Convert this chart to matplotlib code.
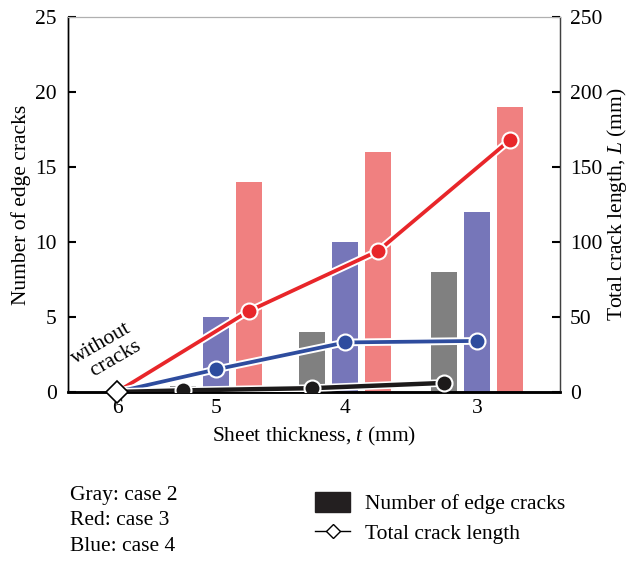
import matplotlib.pyplot as plt
import matplotlib.patheffects as pe
from matplotlib.patches import Patch
from matplotlib.lines import Line2D

plt.rcParams["font.family"] = ["Liberation Serif", "DejaVu Serif"]
plt.rcParams["mathtext.fontset"] = "custom"
plt.rcParams["mathtext.it"] = "Liberation Serif:italic"
plt.rcParams["mathtext.rm"] = "Liberation Serif"

# Data
thickness = ["6", "5", "4", "3"]
cracks_gray = [0.4, 4, 8]      # case 2, for t = 5, 4, 3
cracks_blue = [5, 10, 12]      # case 4
cracks_red = [14, 16, 19]      # case 3
length_gray = [0, 1, 2.5, 6]   # starts at t = 6 (no cracks)
length_blue = [0, 15, 33, 34]
length_red = [0, 54, 94, 168]

# Layout
XPOS = [0.374, 1.13, 2.115, 3.122]
OFFSET = 0.252
BAR_W = 0.2
GRAY_BAR, BLUE_BAR, RED_BAR = "#808080", "#7676b9", "#f08080"
GRAY_LINE, BLUE_LINE, RED_LINE = "#1c1a1a", "#2e4c9e", "#e8262a"
FS = 15.5

fig = plt.figure(figsize=(6.31, 5.68), dpi=100)
ax = fig.add_axes([0.1078, 0.31, 0.7797, 0.66])
ax2 = ax.twinx()

groups = XPOS[1:]
ax.bar([x - OFFSET for x in groups], cracks_gray, BAR_W, color=GRAY_BAR)
ax.bar(groups, cracks_blue, BAR_W, color=BLUE_BAR)
ax.bar([x + OFFSET for x in groups], cracks_red, BAR_W, color=RED_BAR)

outline = [pe.Stroke(linewidth=5.5, foreground="white"), pe.Normal()]
for vals, off, col, lw in ((length_red, OFFSET, RED_LINE, 2.7),
                           (length_blue, 0, BLUE_LINE, 2.7),
                           (length_gray, -OFFSET, GRAY_LINE, 3.2)):
    xs = [XPOS[0]] + [x + off for x in groups]
    ax2.plot(xs, vals, color=col, lw=lw, path_effects=outline, zorder=3)
    ax2.plot(xs[1:], vals[1:], "o", color=col, ms=11.5, mec="white",
             mew=1.5, zorder=4)
ax2.plot([XPOS[0]], [0], "D", ms=11, mfc="white", mec="black", mew=1.2,
         zorder=5, clip_on=False)

ax.set_xlim(0, 3.756)
ax.set_ylim(0, 25)
ax2.set_ylim(0, 250)
ax.set_xticks(XPOS)
ax.set_xticklabels(thickness, fontsize=FS)
ax.tick_params(axis="x", length=0, pad=5)
ax.set_yticks(range(0, 26, 5))
ax2.set_yticks(range(0, 251, 50))
ax.tick_params(axis="y", direction="in", length=6, width=1.5, labelsize=FS,
               pad=8)
ax2.tick_params(axis="y", direction="in", length=6, width=1.5, labelsize=FS,
                pad=7)

for a in (ax, ax2):
    a.spines["top"].set_color("#b0b0b0")
    a.spines["top"].set_linewidth(0.8)
    a.spines["right"].set_color("#404040")
    a.spines["right"].set_linewidth(0.9)
    a.spines["left"].set_linewidth(1.0)
    a.spines["bottom"].set_linewidth(1.8)

ax.set_xlabel("Sheet thickness, $t$ (mm)", fontsize=FS, labelpad=5)
ax.set_ylabel("Number of edge cracks", fontsize=FS, labelpad=3)
ax2.set_ylabel("Total crack length, $L$ (mm)", fontsize=FS, labelpad=2)

ax.text(0.29, 2.6, "without\n  cracks", rotation=30, fontsize=FS,
        ha="center", va="center", linespacing=1.1)

fig.text(0.111, 0.1285, "Gray: case 2", fontsize=FS, va="center")
fig.text(0.111, 0.084, "Red: case 3", fontsize=FS, va="center")
fig.text(0.111, 0.037, "Blue: case 4", fontsize=FS, va="center")

handles = [Patch(color="#231f20"),
           Line2D([], [], color="black", lw=1, marker="D", ms=7,
                  mfc="white", mec="black")]
fig.legend(handles, ["Number of edge cracks", "Total crack length"],
           loc="upper left", bbox_to_anchor=(0.499, 0.133), frameon=False,
           fontsize=FS, handlelength=1.65, handleheight=1.0,
           labelspacing=0.35, handletextpad=0.7, borderpad=0,
           borderaxespad=0)

fig.savefig("out.png", dpi=100)
